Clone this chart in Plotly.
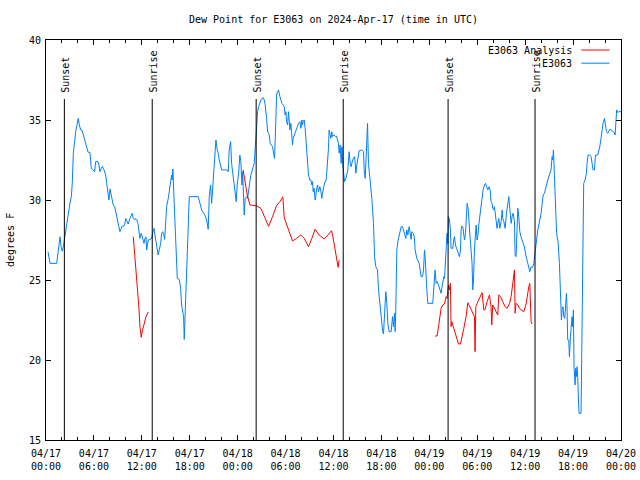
import pandas as pd
import plotly.graph_objects as go

START = pd.Timestamp("2024-04-17 00:00")

# Observed dew point (E3063): hours since 2024-04-17 00:00 UTC, degrees F
obs_hours = [
    0.25, 0.5, 1.34, 1.5, 1.63, 1.75, 1.91, 2.04, 2.17, 2.34, 2.47, 2.59, 2.75, 2.88, 3.0, 3.17, 3.29, 3.42,
    3.59, 3.72, 3.84, 3.92, 4.04, 4.17, 4.34, 4.54, 4.67, 4.84, 4.97, 5.09, 5.26, 5.51, 5.59, 5.67, 5.92,
    6.09, 6.22, 6.51, 6.63, 6.76, 6.92, 7.05, 7.26, 7.47, 7.6, 7.76, 7.88, 8.01, 8.17, 8.3, 8.42, 8.6, 8.72,
    8.85, 9.01, 9.14, 9.26, 9.42, 9.55, 9.67, 9.85, 9.97, 10.18, 10.3, 10.51, 10.68, 10.8, 10.93, 11.1,
    11.23, 11.35, 11.51, 11.64, 11.76, 11.93,
    12.10, 12.27, 12.39, 12.52, 12.6, 12.8, 13.02, 13.23, 13.35, 13.52, 13.64, 13.77, 13.93, 14.05, 14.18,
    14.36, 14.48, 14.61, 14.77, 14.86, 15.02, 15.1, 15.31, 15.43, 15.61, 15.73, 15.81, 15.89, 16.06, 16.27,
    16.44, 16.68, 16.86, 16.98, 17.11, 17.23, 17.31, 17.4, 17.52, 17.69, 17.81, 17.94, 19.06, 19.27, 19.49,
    19.69, 19.9, 20.11, 20.24, 20.31, 20.44, 20.61, 20.74, 20.86, 21.03, 21.15, 21.28, 21.44, 21.57, 21.69,
    21.86, 21.99, 22.69, 22.82, 22.94, 23.12, 23.24, 23.37, 23.65, 23.82, 23.94, 24.12,
    24.27, 24.4, 24.53, 24.62, 24.69, 24.82, 24.94, 25.12, 25.24, 25.37, 25.53, 25.66, 25.78, 25.95, 26.07,
    26.2, 26.37, 26.5, 26.62, 26.78, 26.91, 27.03, 27.2, 27.33, 27.45, 27.62, 27.75, 27.87, 27.95, 28.07,
    28.2, 28.37, 28.5, 28.62, 28.79, 28.87, 29.0, 29.12, 29.29, 29.41, 29.54, 29.7, 29.83, 29.95, 30.04,
    30.12, 30.25, 30.37, 30.45, 30.54, 30.66, 30.79, 30.87, 30.95, 31.08, 31.2, 31.37, 31.5, 31.62, 31.79,
    31.91, 32.04, 32.12, 32.2, 32.33, 32.45, 32.54, 32.67, 32.75, 32.87, 33.04, 33.17, 33.29, 33.38, 33.45,
    33.58, 33.7, 33.79, 33.87, 34.0, 34.12, 34.2, 34.29, 34.42, 34.54, 34.62, 34.7, 34.83, 34.95, 35.04,
    35.12, 35.25, 35.37, 35.45, 35.54, 35.67, 35.79, 35.87, 36.08, 36.25,
    36.37, 36.62, 36.71, 36.83, 36.96, 37.05, 37.17, 37.26, 37.38, 37.55, 37.67, 37.8, 37.88, 37.96, 38.09,
    38.21, 38.39, 38.51, 38.64, 38.72, 38.8, 38.92, 39.05, 39.21, 39.55, 39.76, 39.84, 39.96, 40.09, 40.17,
    40.26, 40.38, 40.59, 40.8, 41.01, 41.14, 41.3, 41.51, 41.64, 41.84, 41.96, 42.14, 42.26, 42.39, 42.55,
    42.68, 42.8, 42.97, 43.22, 43.39, 43.51, 43.64, 43.72, 43.8, 43.93, 44.06, 44.22, 44.34, 44.47, 44.64,
    44.77, 44.89, 45.06, 45.18, 45.31, 45.47, 45.6, 45.72, 45.81, 46.02, 46.15, 46.22, 46.43, 46.56, 46.72,
    46.85, 46.97, 47.15, 47.27, 47.4, 47.47, 47.68, 47.8, 48.43,
    48.56, 48.72, 48.85, 48.97, 49.15, 49.27, 49.4, 49.47, 49.56, 49.69, 49.81, 49.9, 49.97, 50.1, 50.22,
    50.31, 50.39, 50.52, 50.64, 50.72, 50.93, 51.06, 51.15, 51.27, 51.35, 51.47, 51.65, 51.77, 51.9, 51.98,
    52.1, 52.23, 52.32, 52.4, 52.53, 52.6, 52.73, 52.82, 52.9, 53.03, 53.15, 53.23, 53.35, 53.44, 53.53,
    53.65, 53.78, 53.86, 53.98, 54.07, 54.19, 54.32, 54.48, 54.61, 54.73, 54.91, 55.03, 55.19, 55.32, 55.48,
    55.61, 55.73, 55.86, 55.94, 56.07, 56.15, 56.28, 56.36, 56.48, 56.57, 56.7, 56.82, 56.99, 57.12, 57.2,
    57.33, 57.49, 57.66, 57.82, 57.95, 58.07, 58.16, 58.24, 58.36, 58.49, 58.66, 58.74, 58.86, 58.99, 59.08,
    59.2, 59.33, 59.47, 59.7, 59.9, 60.08, 60.24, 60.36, 60.45, 60.58, 60.7, 60.95, 61.08, 61.2, 61.29, 61.41,
    61.58, 61.71, 61.83, 62.0, 62.13, 62.25, 62.42, 62.55, 62.67, 62.83, 62.95, 63.08, 63.24, 63.37, 63.45,
    63.54, 63.62, 63.7, 63.79, 63.92, 63.99, 64.12, 64.29, 64.42, 64.54, 64.62, 64.74, 64.83, 64.96, 65.08,
    65.17, 65.24, 65.33, 65.46, 65.54, 65.67, 65.79, 65.87, 65.95, 66.04, 66.12, 66.25, 66.33, 66.42, 66.5,
    66.58, 66.67, 66.75, 67.0, 67.08, 67.17, 67.33, 67.5, 67.67, 67.75, 67.88, 68.09, 68.25, 68.38, 68.5,
    68.68, 68.8, 69.09, 69.22, 69.34, 69.5, 69.63, 69.75, 69.93, 70.05, 70.18, 70.34, 70.47, 70.6, 70.76,
    70.88, 71.01, 71.18, 71.26, 71.35, 71.46, 71.59, 71.71, 72.0,
]
obs_dewpoint = [
    26.77, 26.04, 26.04, 26.7, 27.4, 27.7, 27.0, 26.8, 27.08, 27.7, 27.9, 28.56, 28.96, 29.4, 29.8, 30.2, 31.06, 32.9,
    33.85, 34.27, 34.58, 34.9, 35.1, 34.69, 34.38, 34.33, 34.06, 33.75, 33.54, 33.33, 33.0, 32.96, 32.5, 31.98, 31.88,
    31.77, 32.4, 32.4, 32.19, 31.77, 31.98, 32.1, 31.88, 31.56, 31.04, 30.3, 30.0, 30.7, 30.21, 29.8, 29.69, 29.58, 29.27,
    28.96, 28.75, 28.33, 28.02, 28.23, 28.38, 28.33, 28.44, 28.85, 28.65, 28.5, 28.85, 29.06, 29.17, 28.85, 28.75,
    28.85, 28.79, 28.54, 28.02, 27.6, 27.92,
    27.5, 27.29, 27.6, 27.7, 26.88, 27.5, 27.54, 27.6, 27.92, 28.23, 27.81, 27.4, 26.77, 26.56, 26.88,
    27.29, 27.92, 28.02, 27.81, 27.54, 28.85, 29.58, 30.1, 30.52, 30.94, 31.56, 31.25, 31.94, 29.69, 26.77,
    25.1, 25.04, 24.48, 23.44, 22.92, 22.71, 21.29, 22.5, 24.58, 26.88, 29.17, 30.21, 30.21, 29.79, 29.38,
    29.21, 29.06, 28.75, 28.33, 28.17, 30.21, 30.94, 29.79, 30.63, 31.77, 32.92, 33.75, 33.13, 32.92, 32.5,
    32.19, 31.88, 31.88, 31.77, 33.13, 33.65, 32.29, 31.77, 30.63, 29.9, 30.94, 31.67,
    32.81, 32.4, 30.94, 31.77, 30.83, 29.06, 30.1, 30.21, 30.1, 30.73, 31.15, 31.56, 31.88, 32.08, 32.29,
    33.44, 34.69, 35.52, 35.83, 36.15, 36.25, 36.35, 36.4, 36.25, 35.94, 35.1, 34.27, 34.17, 34.06, 33.54,
    33.44, 33.33, 32.92, 32.6, 35.1, 36.56, 36.77, 36.88, 36.46, 36.25, 36.04, 35.94, 35.83, 35.31, 35.52,
    34.9, 34.69, 35.52, 35.1, 34.38, 34.79, 34.06, 33.44, 33.85, 34.06, 34.17, 34.48, 34.58, 34.79, 34.9,
    34.48, 35.0, 34.69, 34.9, 35.0, 34.48, 33.85, 33.02, 32.5, 31.56, 31.25, 31.25, 30.94, 31.15, 30.52,
    30.73, 30.0, 30.21, 30.63, 30.94, 30.52, 30.73, 30.83, 30.56, 30.1, 30.42, 30.73, 30.94, 31.15, 31.15,
    31.46, 32.19, 33.23, 34.38, 34.17, 33.85, 34.27, 33.96, 34.06, 33.96,
    34.0, 33.54, 32.92, 33.44, 32.29, 33.33, 32.19, 31.56, 31.15, 31.35, 31.67, 31.88, 32.5, 33.02, 32.29,
    32.08, 32.5, 32.6, 32.71, 32.29, 31.67, 32.19, 32.5, 33.08, 33.13, 33.02, 31.88, 31.35, 32.71, 33.96,
    34.79, 32.29, 31.25, 30.1, 28.54, 26.46, 25.83, 25.63, 24.38, 23.44, 22.5, 21.88, 21.63, 23.13, 24.27,
    23.54, 22.29, 21.77, 21.77, 22.71, 22.08, 22.92, 21.77, 23.13, 26.88, 27.4, 27.81, 28.13, 28.33, 28.33,
    28.13, 27.81, 27.6, 28.13, 27.81, 28.33, 27.92, 27.54, 28.02, 27.92, 27.5, 26.88, 26.35, 26.25, 26.04,
    25.63, 25.21, 25.21, 25.63, 26.88, 26.46, 24.48, 23.54, 23.54,
    24.38, 25.63, 24.79, 24.9, 24.69, 24.48, 24.38, 24.17, 24.48, 24.79, 25.21, 25.1, 25.83, 27.08, 27.92,
    27.29, 28.96, 28.75, 28.13, 26.98, 26.98, 27.5, 27.71, 27.19, 27.08, 26.88, 26.67, 26.46, 26.88, 28.13,
    28.38, 28.23, 27.81, 27.5, 27.92, 28.54, 29.79, 29.58, 29.27, 28.13, 27.5, 27.08, 26.04, 24.38, 25.0,
    26.88, 28.13, 28.44, 27.5, 27.71, 28.44, 28.96, 29.48, 30.21, 30.63, 30.94, 31.04, 30.83, 30.63, 30.83,
    30.63, 29.9, 29.79, 29.48, 29.38, 29.58, 29.06, 28.65, 28.23, 28.54, 28.85, 28.23, 28.65, 29.38, 28.85,
    28.65, 28.23, 29.17, 29.9, 30.21, 29.48, 28.96, 28.54, 28.96, 29.17, 28.65, 26.56, 26.46, 29.06, 29.48,
    28.96, 28.02, 27.71, 27.4, 27.08, 26.56, 26.25, 26.04, 25.9, 25.52, 25.8, 25.8, 26.04, 26.56, 27.08, 27.71,
    28.13, 28.44, 28.75, 29.17, 29.79, 30.31, 30.42, 30.63, 30.94, 31.25, 31.46, 31.77, 31.88, 32.71, 32.5,
    33.13, 32.08, 30.1, 28.75, 28.13, 27.71, 27.4, 26.04, 23.75, 22.5, 23.13, 23.33, 22.71, 22.6, 23.54,
    24.17, 23.33, 21.25, 21.25, 20.21, 21.46, 22.08, 22.71, 22.08, 23.13, 19.58, 18.44, 19.48, 18.96, 19.58,
    18.96, 17.5, 16.67, 16.67, 20.21, 27.4, 31.04, 31.25, 31.67, 32.29, 32.81, 32.81, 32.71, 32.29, 31.88,
    31.88, 32.81, 32.81, 33.02, 33.33, 33.85, 34.38, 34.79, 35.1, 34.79, 34.27, 34.17, 34.27, 34.42, 34.38,
    34.33, 34.27, 34.21, 34.06, 34.58, 35.63, 35.46, 35.52, 35.52,
]

# Analysis dew point (E3063 Analysis), None marks a gap between runs
ana_hours = [
    10.93, 11.1, 11.23, 11.35, 11.51, 11.64, 11.76, 11.93, 12.05, 12.27, 12.52, 12.8,
    None,
    24.69, 24.9, 25.07, 25.2, 25.53, 26.37, 26.91, 27.33, 27.87, 28.37, 28.87, 29.29, 29.66, 29.83, 30.04,
    30.25, 30.54, 30.87, 31.37, 31.91, 32.33, 32.87, 33.29, 33.7, 34.2, 34.83, 35.29, 35.75, 35.91, 36.08,
    36.3, 36.46, 36.58, 36.71,
    None,
    48.72, 48.97, 49.15, 49.27, 49.47, 49.69, 49.9, 50.1, 50.22, 50.39, 50.52, 50.64, 50.72, 50.81, 50.93,
    51.15, 51.35, 51.65, 51.9, 52.07, 52.32, 52.6, 52.82, 53.03, 53.23, 53.44, 53.65, 53.73, 53.82, 53.98,
    54.28, 54.48, 54.61, 54.82, 54.98, 55.23, 55.53, 55.73, 55.82, 55.94, 56.15, 56.36, 56.57, 56.7, 56.91,
    57.2, 57.49, 57.74, 58.04, 58.24, 58.45, 58.57, 58.66, 58.74, 58.86, 59.08, 59.29, 59.5, 59.83, 60.12,
    60.24, 60.33, 60.45, 60.58, 60.66, 60.74, 60.86,
]
ana_dewpoint = [
    27.7, 26.67, 26.04, 24.79, 24.06, 23.23, 22.1, 21.42, 21.8, 22.3, 22.7, 23.0,
    None,
    31.88, 31.15, 30.73, 30.31, 29.69, 29.63, 29.48, 28.96, 28.35, 28.96, 29.65, 29.9, 30.2, 28.9, 28.6,
    28.27, 27.92, 27.44, 27.6, 27.81, 27.6, 27.08, 27.6, 28.17, 27.81, 27.56, 27.8, 28.08, 27.75, 27.3,
    26.77, 26.25, 25.79, 26.25,
    None,
    21.5, 21.5, 22.08, 22.6, 23.23, 23.44, 23.5, 23.96, 23.85, 24.69, 24.38, 24.79, 22.08, 22.4, 22.19,
    21.88, 21.46, 21.0, 21.0, 21.35, 21.98, 22.71, 23.58, 23.38, 23.13, 22.92, 22.71, 20.52, 23.33, 23.54,
    23.85, 24.06, 24.21, 23.13, 23.15, 23.65, 24.06, 23.33, 22.19, 23.44, 23.23, 23.02, 22.81, 24.06, 23.96,
    23.65, 23.33, 23.23, 23.54, 23.96, 24.79, 25.31, 25.63, 22.92, 23.54, 23.44, 23.23, 23.13, 23.02, 23.5,
    23.96, 24.27, 24.58, 24.79, 23.65, 22.4, 22.25,
]

sun_times = ["2024-04-17 02:18", "2024-04-17 13:18", "2024-04-18 02:19",
             "2024-04-18 13:13", "2024-04-19 02:21", "2024-04-19 13:14"]
sun_labels = ["Sunset", "Sunrise", "Sunset", "Sunrise", "Sunset", "Sunrise"]

x_tick_vals = ["2024-04-17 00:00", "2024-04-17 06:00", "2024-04-17 12:00", "2024-04-17 18:00",
               "2024-04-18 00:00", "2024-04-18 06:00", "2024-04-18 12:00", "2024-04-18 18:00",
               "2024-04-19 00:00", "2024-04-19 06:00", "2024-04-19 12:00", "2024-04-19 18:00",
               "2024-04-20 00:00"]
y_tick_vals = [15, 20, 25, 30, 35, 40]

title_text = "Dew Point for E3063 on 2024-Apr-17 (time in UTC)"
y_title = "degrees F"
legend_names = ["E3063 Analysis", "E3063"]
colors = ["#ff0000", "#0080ff"]

FONT = "DejaVu Sans Mono"


def to_time(hours):
    return [None if h is None else START + pd.Timedelta(hours=h) for h in hours]


fig = go.Figure()
fig.add_trace(go.Scatter(x=to_time(obs_hours), y=obs_dewpoint, mode="lines",
                         line=dict(color=colors[1], width=1), name=legend_names[1],
                         showlegend=False, connectgaps=False))
fig.add_trace(go.Scatter(x=to_time(ana_hours), y=ana_dewpoint, mode="lines",
                         line=dict(color=colors[0], width=1), name=legend_names[0],
                         showlegend=False, connectgaps=False))

shapes = []
annotations = []
for t, lab in zip(sun_times, sun_labels):
    shapes.append(dict(type="line", xref="x", yref="paper", x0=t, x1=t, y0=0, y1=0.8525,
                       line=dict(color="black", width=1), layer="above"))
    annotations.append(dict(x=t, y=0.864, xref="x", yref="paper", text=lab, textangle=-90,
                            showarrow=False, xanchor="center", yanchor="bottom", xshift=1,
                            font=dict(family=FONT, size=10, color="black")))

# legend drawn by hand: text right-aligned with line sample to its right
leg_y = [0.975, 0.942]
for name, col, yy in zip(legend_names, colors, leg_y):
    annotations.append(dict(x=0.918, y=yy, xref="paper", yref="paper", text=name, showarrow=False,
                            xanchor="right", yanchor="middle",
                            font=dict(family=FONT, size=10, color="black")))
    shapes.append(dict(type="line", xref="paper", yref="paper", x0=0.931, x1=0.980, y0=yy, y1=yy,
                       line=dict(color=col, width=1)))

annotations.append(dict(x=-0.0626, y=0.5, xref="paper", yref="paper", text=y_title, textangle=-90,
                        showarrow=False, xanchor="center", yanchor="middle",
                        font=dict(family=FONT, size=10, color="black")))

fig.update_layout(
    width=640, height=480,
    margin=dict(l=46, r=19, t=40, b=40, autoexpand=False),
    paper_bgcolor="white", plot_bgcolor="white",
    font=dict(family=FONT, size=10, color="black"),
    title=dict(text=title_text, x=0.5, xref="paper", y=1 - 19 / 480, yref="container",
               xanchor="center", yanchor="middle", font=dict(family=FONT, size=10, color="black")),
    shapes=shapes, annotations=annotations, showlegend=False,
)
fig.update_xaxes(
    type="date", range=[x_tick_vals[0], x_tick_vals[-1]],
    tickmode="array", tickvals=x_tick_vals, tickformat="%m/%d<br>%H:%M",
    ticks="inside", ticklen=5, tickcolor="black", tickwidth=1, ticklabelstandoff=4,
    minor=dict(dtick=2 * 3600 * 1000, ticks="inside", ticklen=3, tickcolor="black", showgrid=False),
    showline=True, linecolor="black", linewidth=1, mirror="allticks",
    showgrid=False, zeroline=False, tickfont=dict(family=FONT, size=10, color="black"),
)
fig.update_yaxes(
    range=[15, 40], tickmode="array", tickvals=y_tick_vals,
    ticks="inside", ticklen=5, tickcolor="black", tickwidth=1, ticklabelstandoff=2,
    showline=True, linecolor="black", linewidth=1, mirror="allticks",
    showgrid=False, zeroline=False, tickfont=dict(family=FONT, size=10, color="black"),
)

# place the figure at the page's top-left corner (remove the default body margin)
fig.write_html("out.html", config={"displayModeBar": False},
               post_script="document.body.style.margin='0px';document.body.style.overflow='hidden';")
